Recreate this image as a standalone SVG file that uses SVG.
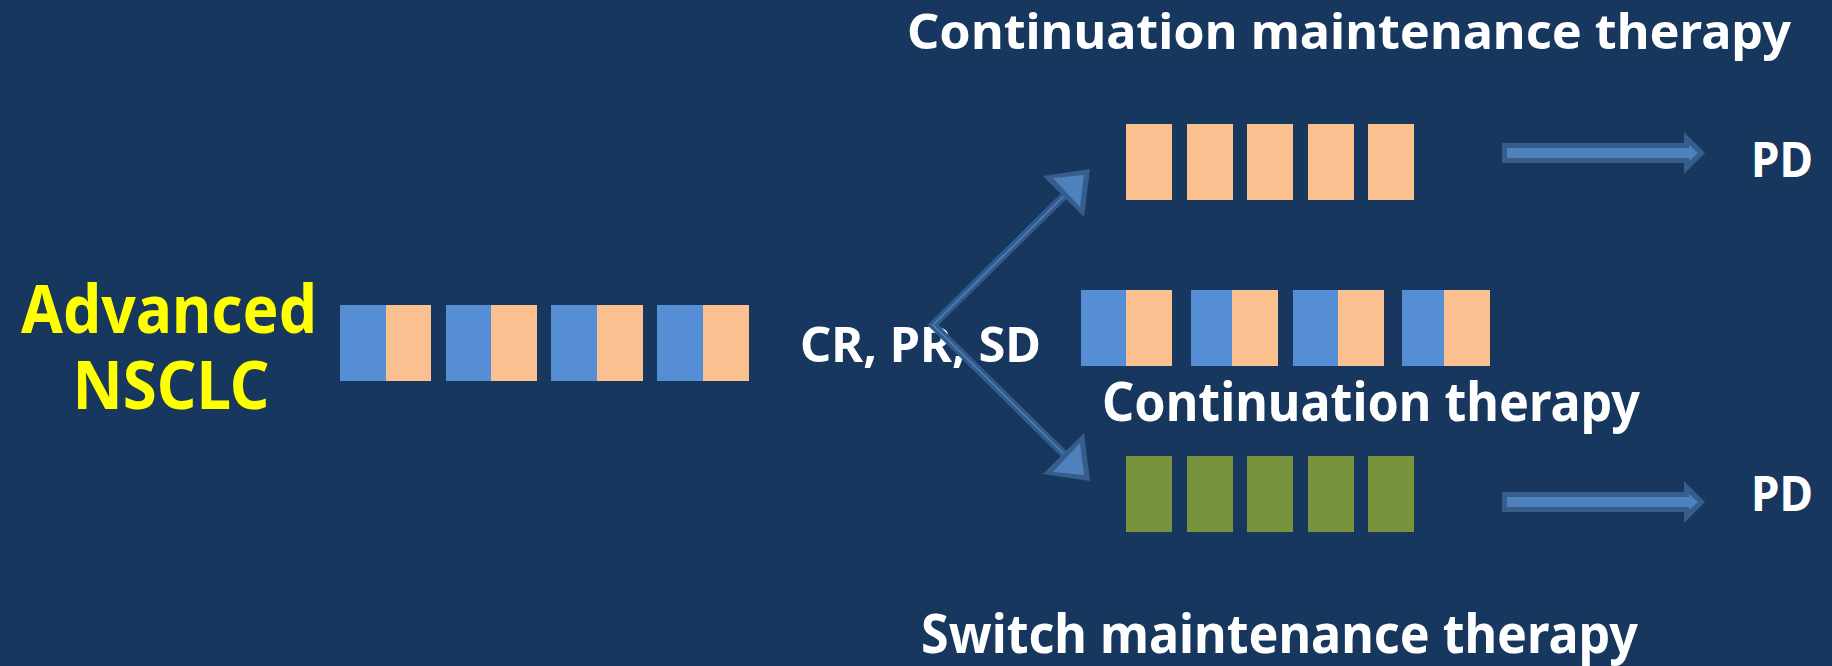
<svg xmlns="http://www.w3.org/2000/svg" width="1832" height="666" viewBox="0 0 1832 666">
<style>
.bg{fill:#17375e}
.b{fill:#558ed5}
.p{fill:#fac090}
.g{fill:#77933c}
.t{font-family:"Noto Sans","Open Sans","Liberation Sans",sans-serif;font-weight:bold;fill:#ffffff}
.y{fill:#ffff00}
.arO{fill:#375d8c}
.arI{fill:#4f81bd}
.lnO{fill:none;stroke:#325a8b;stroke-width:8;stroke-linejoin:miter}
.lnI{fill:none;stroke:#4f81bd;stroke-width:1.5}
</style>
<rect class="bg" x="0" y="0" width="1832" height="666"/>

<g id="advanced-nsclc">
<text class="t y" x="169" y="333" font-size="66" text-anchor="middle" textLength="296" lengthAdjust="spacingAndGlyphs">Advanced</text>
<text class="t y" x="171" y="409" font-size="66" text-anchor="middle" textLength="197" lengthAdjust="spacingAndGlyphs">NSCLC</text>
</g>

<g id="induction-cycles">
<rect class="b" x="340" y="305" width="46" height="76"/><rect class="p" x="386" y="305" width="45" height="76"/>
<rect class="b" x="446" y="305" width="45" height="76"/><rect class="p" x="491" y="305" width="46" height="76"/>
<rect class="b" x="551" y="305" width="46" height="76"/><rect class="p" x="597" y="305" width="46" height="76"/>
<rect class="b" x="657" y="305" width="46" height="76"/><rect class="p" x="703" y="305" width="46" height="76"/>
</g>

<g id="response-label">
<text class="t" x="800" y="362" font-size="48" textLength="241" lengthAdjust="spacingAndGlyphs">CR, PR, SD</text>
</g>

<g id="continuation-maintenance">
<text class="t" x="907" y="49" font-size="49" textLength="884" lengthAdjust="spacingAndGlyphs">Continuation maintenance therapy</text>
<rect class="p" x="1126" y="124" width="46" height="76"/>
<rect class="p" x="1187" y="124" width="46" height="76"/>
<rect class="p" x="1247" y="124" width="46" height="76"/>
<rect class="p" x="1308" y="124" width="46" height="76"/>
<rect class="p" x="1368" y="124" width="46" height="76"/>
</g>

<g id="continuation-therapy">
<rect class="b" x="1081" y="290" width="45" height="76"/><rect class="p" x="1126" y="290" width="46" height="76"/>
<rect class="b" x="1191" y="290" width="41" height="76"/><rect class="p" x="1232" y="290" width="46" height="76"/>
<rect class="b" x="1293" y="290" width="45" height="76"/><rect class="p" x="1338" y="290" width="46" height="76"/>
<rect class="b" x="1402" y="290" width="42" height="76"/><rect class="p" x="1444" y="290" width="46" height="76"/>
<text class="t" x="1102" y="421" font-size="54" textLength="538" lengthAdjust="spacingAndGlyphs">Continuation therapy</text>
</g>

<g id="switch-maintenance">
<rect class="g" x="1126" y="456" width="46" height="76"/>
<rect class="g" x="1187" y="456" width="46" height="76"/>
<rect class="g" x="1247" y="456" width="46" height="76"/>
<rect class="g" x="1308" y="456" width="46" height="76"/>
<rect class="g" x="1368" y="456" width="46" height="76"/>
<text class="t" x="921" y="653" font-size="54" textLength="717" lengthAdjust="spacingAndGlyphs">Switch maintenance therapy</text>
</g>

<g id="pd-top">
<text class="t" x="1751" y="177" font-size="48" textLength="62" lengthAdjust="spacingAndGlyphs">PD</text>
</g>
<g id="pd-bottom">
<text class="t" x="1751" y="511" font-size="48" textLength="62" lengthAdjust="spacingAndGlyphs">PD</text>
</g>

<g id="connectors">
<polyline class="lnO" points="1068,192 933,325 1068,458"/>
<polyline class="lnI" points="1068,192 933,325 1068,458"/>
<polygon class="arO" points="1043,176 1090,169 1084,217"/>
<polygon class="arI" points="1053,178 1084,175 1080,207"/>
<polygon class="arO" points="1043,474 1090,481 1084,433"/>
<polygon class="arI" points="1053,472 1084,475 1080,443"/>
<polygon class="arO" points="1502,143 1684,143 1684,132 1705,153 1684,174 1684,163 1502,163"/>
<polygon class="arI" points="1507,148 1689,148 1689,145 1698,153 1689,161 1689,158 1507,158"/>
<polygon class="arO" points="1502,492 1684,492 1684,481 1705,502 1684,523 1684,512 1502,512"/>
<polygon class="arI" points="1507,497 1689,497 1689,494 1698,502 1689,510 1689,507 1507,507"/>
</g>
</svg>
